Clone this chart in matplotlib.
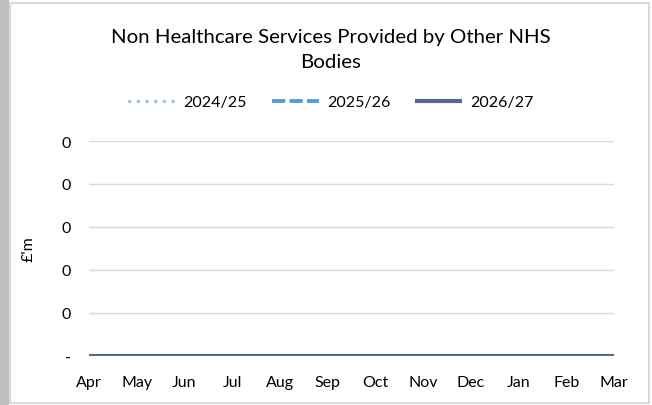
import matplotlib
matplotlib.use("Agg")
import matplotlib.pyplot as plt
from matplotlib.patches import Rectangle
from matplotlib.ticker import FuncFormatter

months = ["Apr", "May", "Jun", "Jul", "Aug", "Sep", "Oct", "Nov", "Dec", "Jan", "Feb", "Mar"]
series_names = ["2024/25", "2025/26", "2026/27"]
values_2024 = [0, 0, 0, 0, 0, 0, 0, 0, 0, 0, 0, 0]
values_2025 = [0, 0, 0, 0, 0, 0, 0, 0, 0, 0, 0, 0]
values_2026 = [0, 0, 0, 0, 0, 0, 0, 0, 0, 0, 0, 0]
y_ticks = [0, 0.1, 0.2, 0.3, 0.4, 0.5]

plt.rcParams['font.family'] = ['Lato', 'DejaVu Sans']

W, H = 652, 406
fig = plt.figure(figsize=(W / 100, H / 100), dpi=100)
fig.patch.set_facecolor("white")

# outer frame and left grey strip
fig.patches.append(Rectangle((0, 0), 9 / W, 1, transform=fig.transFigure,
                             facecolor="#BFBFBF", edgecolor="none", zorder=-10))
fig.patches.append(Rectangle((9.5 / W, 2 / H), (649 - 9.5) / W, (403 - 3) / H,
                             transform=fig.transFigure, facecolor="white",
                             edgecolor="#D9D9D9", linewidth=1.5, zorder=-9))

ax = fig.add_axes([89 / W, (H - 357) / H, (614 - 89) / W, (357 - 142) / H])
ax.set_facecolor("none")
ax.set_zorder(2)
x = list(range(len(months)))

lw = 2.8
l1, = ax.plot(x, values_2024, color="#9DC3E6", linewidth=lw - 0.3, linestyle=(0, (0.1, 2.4)),
              dash_capstyle="round", zorder=3)
l2, = ax.plot(x, values_2025, color="#5B9BD5", linewidth=lw, linestyle=(0, (3.4, 1.1)), zorder=4)
l3, = ax.plot(x, values_2026, color="#536A8A", linewidth=lw + 0.2, linestyle="-", zorder=5,
              solid_capstyle="butt")

ax.set_xlim(0, 11)
ax.set_ylim(y_ticks[0], y_ticks[-1])
ax.set_xticks(x)
ax.set_xticklabels(months)
ax.set_yticks(y_ticks)
ax.yaxis.set_major_formatter(FuncFormatter(lambda v, p: "-" if abs(v) < 1e-9 else f"{int(v)}"))
ax.grid(axis="y", color="#D9D9D9", linewidth=1)
ax.set_axisbelow(True)
for s in ax.spines.values():
    s.set_visible(False)
ax.tick_params(axis="both", length=0, labelsize=11.5, colors="black")
ax.tick_params(axis="x", pad=14)
ax.tick_params(axis="y", pad=13)
ax.set_ylabel("£'m", fontsize=11.5, labelpad=19)

fig.text(331 / W, 1 - 50 / H, "Non Healthcare Services Provided by Other NHS\nBodies",
         ha="center", va="center", fontsize=14.7, linespacing=1.55)

fig.legend([l1, l2, l3], series_names, loc="center", bbox_to_anchor=(331 / W, 1 - 103 / H),
           ncol=3, frameon=False, fontsize=11.5, handlelength=2.95, columnspacing=1.55,
           handletextpad=0.5)

fig.savefig("out.png", dpi=100)
